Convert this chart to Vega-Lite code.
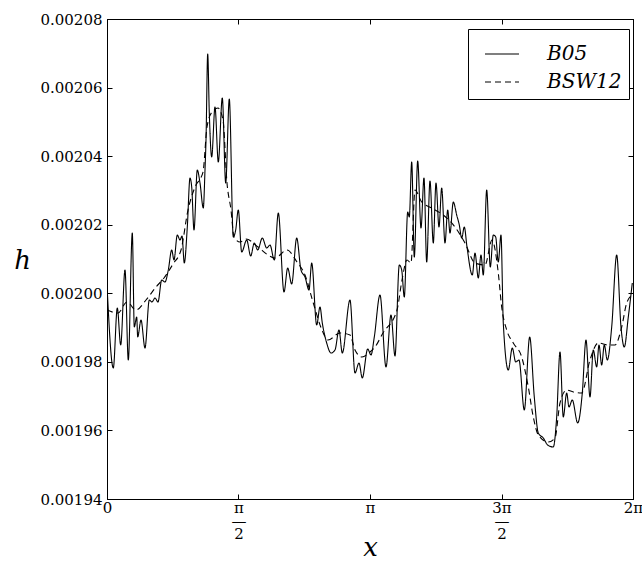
{
"$schema": "https://vega.github.io/schema/vega-lite/v6.json",
"width": 526, "height": 480,
"autosize": {"type": "none"},
"padding": {"left": 107, "top": 19, "right": 9, "bottom": 71},
"background": "white",
"config": {
  "view": {"stroke": "black", "strokeWidth": 1},
  "axis": {"grid": false, "domainColor": "black", "tickColor": "black", "labelColor": "black", "titleColor": "black", "labelFont": "DejaVu Serif", "titleFont": "DejaVu Serif", "labelFontSize": 15, "domainWidth": 1, "tickWidth": 1}
},
"data": {"values": [
{"series":"B05","x":0,"h":0.00200242},{"series":"B05","x":0.0753,"h":0.00197821},{"series":"B05","x":0.1230,"h":0.00199571},{"series":"B05","x":0.1636,"h":0.00198492},{"series":"B05","x":0.2150,"h":0.00200679},{"series":"B05","x":0.2544,"h":0.00198054},{"series":"B05","x":0.3022,"h":0.00201758},{"series":"B05","x":0.3261,"h":0.00199017},{"series":"B05","x":0.3548,"h":0.00199308},{"series":"B05","x":0.3667,"h":0.00198725},{"series":"B05","x":0.4061,"h":0.00199221},{"series":"B05","x":0.4539,"h":0.00198404},{"series":"B05","x":0.5053,"h":0.00199804},{"series":"B05","x":0.5375,"h":0.00199746},{"series":"B05","x":0.5734,"h":0.00199862},{"series":"B05","x":0.6092,"h":0.00199746},{"series":"B05","x":0.6534,"h":0.00200387},{"series":"B05","x":0.6928,"h":0.00200329},{"series":"B05","x":0.7322,"h":0.00200679},{"series":"B05","x":0.7729,"h":0.00201262},{"series":"B05","x":0.8003,"h":0.00200971},{"series":"B05","x":0.8397,"h":0.00201700},{"series":"B05","x":0.8720,"h":0.00201554},{"series":"B05","x":0.8959,"h":0.00201671},{"series":"B05","x":0.9233,"h":0.00200883},{"series":"B05","x":0.9592,"h":0.00201933},{"series":"B05","x":0.9914,"h":0.00203362},{"series":"B05","x":1.0118,"h":0.00203100},{"series":"B05","x":1.0392,"h":0.00201846},{"series":"B05","x":1.0786,"h":0.00203596},{"series":"B05","x":1.1109,"h":0.00203217},{"series":"B05","x":1.1503,"h":0.00202487},{"series":"B05","x":1.1706,"h":0.00203596},{"series":"B05","x":1.1826,"h":0.00204471},{"series":"B05","x":1.2029,"h":0.00206979},{"series":"B05","x":1.2220,"h":0.00205258},{"series":"B05","x":1.2506,"h":0.00203975},{"series":"B05","x":1.2901,"h":0.00205433},{"series":"B05","x":1.3295,"h":0.00203829},{"series":"B05","x":1.3773,"h":0.00205696},{"series":"B05","x":1.4179,"h":0.00203217},{"series":"B05","x":1.4609,"h":0.00205667},{"series":"B05","x":1.5087,"h":0.00201642},{"series":"B05","x":1.5373,"h":0.00201846},{"series":"B05","x":1.5684,"h":0.00202429},{"series":"B05","x":1.6090,"h":0.00201204},{"series":"B05","x":1.6687,"h":0.00201554},{"series":"B05","x":1.7165,"h":0.00201087},{"series":"B05","x":1.7595,"h":0.00201467},{"series":"B05","x":1.8001,"h":0.00201262},{"series":"B05","x":1.8551,"h":0.00201612},{"series":"B05","x":1.9076,"h":0.00201321},{"series":"B05","x":1.9470,"h":0.00201408},{"series":"B05","x":1.9984,"h":0.00200971},{"series":"B05","x":2.0462,"h":0.00202342},{"series":"B05","x":2.1143,"h":0.00200037},{"series":"B05","x":2.1585,"h":0.00200737},{"series":"B05","x":2.2063,"h":0.00200271},{"series":"B05","x":2.2660,"h":0.00201612},{"series":"B05","x":2.3173,"h":0.00200679},{"series":"B05","x":2.3651,"h":0.00200475},{"series":"B05","x":2.4129,"h":0.00200096},{"series":"B05","x":2.4452,"h":0.00200883},{"series":"B05","x":2.5049,"h":0.00199075},{"series":"B05","x":2.5443,"h":0.00199600},{"series":"B05","x":2.5718,"h":0.00199133},{"series":"B05","x":2.6243,"h":0.00198550},{"series":"B05","x":2.6757,"h":0.00198258},{"series":"B05","x":2.7235,"h":0.00198346},{"series":"B05","x":2.7712,"h":0.00198929},{"series":"B05","x":2.8107,"h":0.00198258},{"series":"B05","x":2.9026,"h":0.00199804},{"series":"B05","x":2.9624,"h":0.00197675},{"series":"B05","x":3.0101,"h":0.00197967},{"series":"B05","x":3.0496,"h":0.00197529},{"series":"B05","x":3.1141,"h":0.00198375},{"series":"B05","x":3.1535,"h":0.00198200},{"series":"B05","x":3.1929,"h":0.00198725},{"series":"B05","x":3.2610,"h":0.00199950},{"series":"B05","x":3.3327,"h":0.00197850},{"series":"B05","x":3.3924,"h":0.00199367},{"series":"B05","x":3.4402,"h":0.00198171},{"series":"B05","x":3.4915,"h":0.00200825},{"series":"B05","x":3.5202,"h":0.00200679},{"series":"B05","x":3.5513,"h":0.00199892},{"series":"B05","x":3.5919,"h":0.00202371},{"series":"B05","x":3.6110,"h":0.00202225},{"series":"B05","x":3.6397,"h":0.00203829},{"series":"B05","x":3.6707,"h":0.00201058},{"series":"B05","x":3.7113,"h":0.00203858},{"series":"B05","x":3.7507,"h":0.00201904},{"series":"B05","x":3.7866,"h":0.00203362},{"series":"B05","x":3.8188,"h":0.00200912},{"series":"B05","x":3.8582,"h":0.00203275},{"series":"B05","x":3.8977,"h":0.00201467},{"series":"B05","x":3.9299,"h":0.00203217},{"series":"B05","x":3.9657,"h":0.00201933},{"series":"B05","x":3.9980,"h":0.00203071},{"series":"B05","x":4.0374,"h":0.00201467},{"series":"B05","x":4.0697,"h":0.00202429},{"series":"B05","x":4.0971,"h":0.00201758},{"series":"B05","x":4.1366,"h":0.00202662},{"series":"B05","x":4.1772,"h":0.00202283},{"series":"B05","x":4.2082,"h":0.00201992},{"series":"B05","x":4.2369,"h":0.00201612},{"series":"B05","x":4.2680,"h":0.00201933},{"series":"B05","x":4.3002,"h":0.00201350},{"series":"B05","x":4.3635,"h":0.00200533},{"series":"B05","x":4.3958,"h":0.00201175},{"series":"B05","x":4.4352,"h":0.00200446},{"series":"B05","x":4.4674,"h":0.00201117},{"series":"B05","x":4.4949,"h":0.00200533},{"series":"B05","x":4.5355,"h":0.00203012},{"series":"B05","x":4.5785,"h":0.00200767},{"series":"B05","x":4.6143,"h":0.00201700},{"series":"B05","x":4.6430,"h":0.00201642},{"series":"B05","x":4.6740,"h":0.00200912},{"series":"B05","x":4.7063,"h":0.00201700},{"series":"B05","x":4.7338,"h":0.00199133},{"series":"B05","x":4.7935,"h":0.00197762},{"series":"B05","x":4.8413,"h":0.00198404},{"series":"B05","x":4.8819,"h":0.00197996},{"series":"B05","x":4.9213,"h":0.00198054},{"series":"B05","x":4.9846,"h":0.00196596},{"series":"B05","x":5.0491,"h":0.00198725},{"series":"B05","x":5.1041,"h":0.00196975},{"series":"B05","x":5.1518,"h":0.00195925},{"series":"B05","x":5.2116,"h":0.00195779},{"series":"B05","x":5.2641,"h":0.00195575},{"series":"B05","x":5.3310,"h":0.00195517},{"series":"B05","x":5.3716,"h":0.00196392},{"series":"B05","x":5.4111,"h":0.00198287},{"series":"B05","x":5.4505,"h":0.00196392},{"series":"B05","x":5.4911,"h":0.00197092},{"series":"B05","x":5.5186,"h":0.00196683},{"series":"B05","x":5.5580,"h":0.00196887},{"series":"B05","x":5.6225,"h":0.00196217},{"series":"B05","x":5.6775,"h":0.00197092},{"series":"B05","x":5.7217,"h":0.00198637},{"series":"B05","x":5.7694,"h":0.00196975},{"series":"B05","x":5.8089,"h":0.00198346},{"series":"B05","x":5.8495,"h":0.00197850},{"series":"B05","x":5.8770,"h":0.00198492},{"series":"B05","x":5.9092,"h":0.00197908},{"series":"B05","x":5.9403,"h":0.00198492},{"series":"B05","x":5.9761,"h":0.00198054},{"series":"B05","x":6.0287,"h":0.00199017},{"series":"B05","x":6.0884,"h":0.00201117},{"series":"B05","x":6.1397,"h":0.00199017},{"series":"B05","x":6.1792,"h":0.00198433},{"series":"B05","x":6.2270,"h":0.00199308},{"series":"B05","x":6.2748,"h":0.00200300},
{"series":"B_SW12","x":0,"h":0.00199512},{"series":"B_SW12","x":0.1314,"h":0.00199425},{"series":"B_SW12","x":0.2389,"h":0.00199746},{"series":"B_SW12","x":0.3464,"h":0.00199512},{"series":"B_SW12","x":0.4659,"h":0.00199804},{"series":"B_SW12","x":0.5853,"h":0.00200183},{"series":"B_SW12","x":0.6809,"h":0.00200446},{"series":"B_SW12","x":0.7884,"h":0.00200854},{"series":"B_SW12","x":0.8839,"h":0.00201262},{"series":"B_SW12","x":0.9675,"h":0.00202429},{"series":"B_SW12","x":1.0512,"h":0.00203100},{"series":"B_SW12","x":1.1467,"h":0.00203537},{"series":"B_SW12","x":1.1945,"h":0.00204850},{"series":"B_SW12","x":1.2542,"h":0.00205287},{"series":"B_SW12","x":1.3259,"h":0.00205404},{"series":"B_SW12","x":1.3856,"h":0.00205054},{"series":"B_SW12","x":1.4334,"h":0.00203217},{"series":"B_SW12","x":1.4812,"h":0.00202429},{"series":"B_SW12","x":1.5170,"h":0.00201642},{"series":"B_SW12","x":1.5887,"h":0.00201496},{"series":"B_SW12","x":1.6604,"h":0.00201583},{"series":"B_SW12","x":1.8037,"h":0.00201350},{"series":"B_SW12","x":1.9231,"h":0.00201117},{"series":"B_SW12","x":2.0068,"h":0.00201029},{"series":"B_SW12","x":2.1501,"h":0.00201262},{"series":"B_SW12","x":2.2696,"h":0.00200912},{"series":"B_SW12","x":2.3651,"h":0.00200533},{"series":"B_SW12","x":2.4607,"h":0.00199746},{"series":"B_SW12","x":2.5682,"h":0.00198929},{"series":"B_SW12","x":2.6398,"h":0.00198637},{"series":"B_SW12","x":2.7832,"h":0.00198842},{"series":"B_SW12","x":2.9026,"h":0.00198783},{"series":"B_SW12","x":2.9624,"h":0.00198346},{"series":"B_SW12","x":3.0460,"h":0.00198142},{"series":"B_SW12","x":3.1416,"h":0.00198287},{"series":"B_SW12","x":3.2013,"h":0.00198433},{"series":"B_SW12","x":3.2969,"h":0.00198842},{"series":"B_SW12","x":3.4641,"h":0.00199512},{"series":"B_SW12","x":3.5238,"h":0.00200387},{"series":"B_SW12","x":3.5836,"h":0.00200971},{"series":"B_SW12","x":3.6313,"h":0.00200883},{"series":"B_SW12","x":3.6790,"h":0.00203012},{"series":"B_SW12","x":3.7591,"h":0.00202662},{"series":"B_SW12","x":3.8785,"h":0.00202487},{"series":"B_SW12","x":4.0171,"h":0.00202283},{"series":"B_SW12","x":4.1569,"h":0.00201933},{"series":"B_SW12","x":4.2763,"h":0.00201467},{"series":"B_SW12","x":4.3958,"h":0.00200883},{"series":"B_SW12","x":4.5152,"h":0.00200825},{"series":"B_SW12","x":4.5988,"h":0.00201554},{"series":"B_SW12","x":4.6740,"h":0.00200592},{"series":"B_SW12","x":4.7146,"h":0.00199600},{"series":"B_SW12","x":4.7744,"h":0.00198929},{"series":"B_SW12","x":4.8532,"h":0.00198550},{"series":"B_SW12","x":4.9535,"h":0.00198142},{"series":"B_SW12","x":5.0324,"h":0.00197267},{"series":"B_SW12","x":5.0921,"h":0.00196392},{"series":"B_SW12","x":5.1518,"h":0.00195867},{"series":"B_SW12","x":5.2713,"h":0.00195662},{"series":"B_SW12","x":5.3513,"h":0.00195779},{"series":"B_SW12","x":5.4111,"h":0.00196800},{"series":"B_SW12","x":5.4911,"h":0.00197179},{"series":"B_SW12","x":5.5700,"h":0.00197121},{"series":"B_SW12","x":5.6703,"h":0.00197092},{"series":"B_SW12","x":5.7694,"h":0.00198054},{"series":"B_SW12","x":5.8686,"h":0.00198550},{"series":"B_SW12","x":5.9880,"h":0.00198492},{"series":"B_SW12","x":6.0681,"h":0.00198492},{"series":"B_SW12","x":6.1481,"h":0.00199017},{"series":"B_SW12","x":6.2079,"h":0.00199717},{"series":"B_SW12","x":6.2748,"h":0.00199950}
]},
"layer": [
  {
    "mark": {"type": "line", "color": "black", "strokeWidth": 1.1, "clip": true, "interpolate": "monotone"},
    "encoding": {
      "x": {"field": "x", "type": "quantitative",
        "scale": {"domain": [0, 6.283185307], "nice": false, "zero": false},
        "axis": {"orient": "bottom", "values": [0, 1.5707963, 3.1415927, 4.712389, 6.2831853],
          "labelExpr": "datum.value < 0.5 ? '0' : datum.value < 2 ? ['π','—','2'] : datum.value < 4 ? 'π' : datum.value < 5 ? ['3π','—','2'] : '2π'",
          "labelLineHeight": 13, "labelBaseline": "top", "labelFlush": false, "labelOverlap": false,
          "tickSize": -5, "labelPadding": 6,
          "title": "x", "titleFontStyle": "italic", "titleFontSize": 26, "titleFontWeight": "normal",
          "titleY": 56, "titleBaseline": "alphabetic"}},
      "y": {"field": "h", "type": "quantitative",
        "scale": {"domain": [0.00194, 0.00208], "nice": false, "zero": false},
        "axis": {"orient": "left", "values": [0.00194, 0.00196, 0.00198, 0.002, 0.00202, 0.00204, 0.00206, 0.00208],
          "format": ".5f", "tickSize": -5, "labelPadding": 10, "labelFlush": false, "labelOverlap": false,
          "title": "h", "titleAngle": 0, "titleFontStyle": "italic", "titleFontSize": 26, "titleFontWeight": "normal",
          "titleX": -85, "titleY": 249, "titleAlign": "center", "titleBaseline": "alphabetic"}},
      "strokeDash": {"field": "series", "type": "nominal",
        "scale": {"domain": ["B05", "B_SW12"], "range": [[1, 0], [6, 4]]},
        "legend": {"title": null, "orient": "none", "legendX": 361, "legendY": 10,
          "strokeColor": "black", "fillColor": "white", "padding": 7, "cornerRadius": 0,
          "symbolType": "stroke", "symbolSize": 1156, "symbolStrokeWidth": 1.1, "symbolStrokeColor": "black",
          "symbolOffset": 9,
          "labelFont": "DejaVu Serif", "labelFontStyle": "italic", "labelFontSize": 20, "labelColor": "black",
          "labelOffset": 27, "rowPadding": -1,
          "labelExpr": "datum.label == 'B_SW12' ? 'BSW12' : datum.label"}}
    }
  },
  {
    "mark": {"type": "line", "strokeOpacity": 0},
    "encoding": {
      "x": {"field": "x", "type": "quantitative",
        "axis": {"orient": "top", "labels": false, "title": null, "tickSize": -5, "values": [0, 1.5707963, 3.1415927, 4.712389, 6.2831853]}},
      "y": {"field": "h", "type": "quantitative",
        "axis": {"orient": "right", "labels": false, "title": null, "tickSize": -5, "values": [0.00194, 0.00196, 0.00198, 0.002, 0.00202, 0.00204, 0.00206, 0.00208]}},
      "detail": {"field": "series"}
    }
  }
],
"resolve": {"axis": {"x": "independent", "y": "independent"}}
}
